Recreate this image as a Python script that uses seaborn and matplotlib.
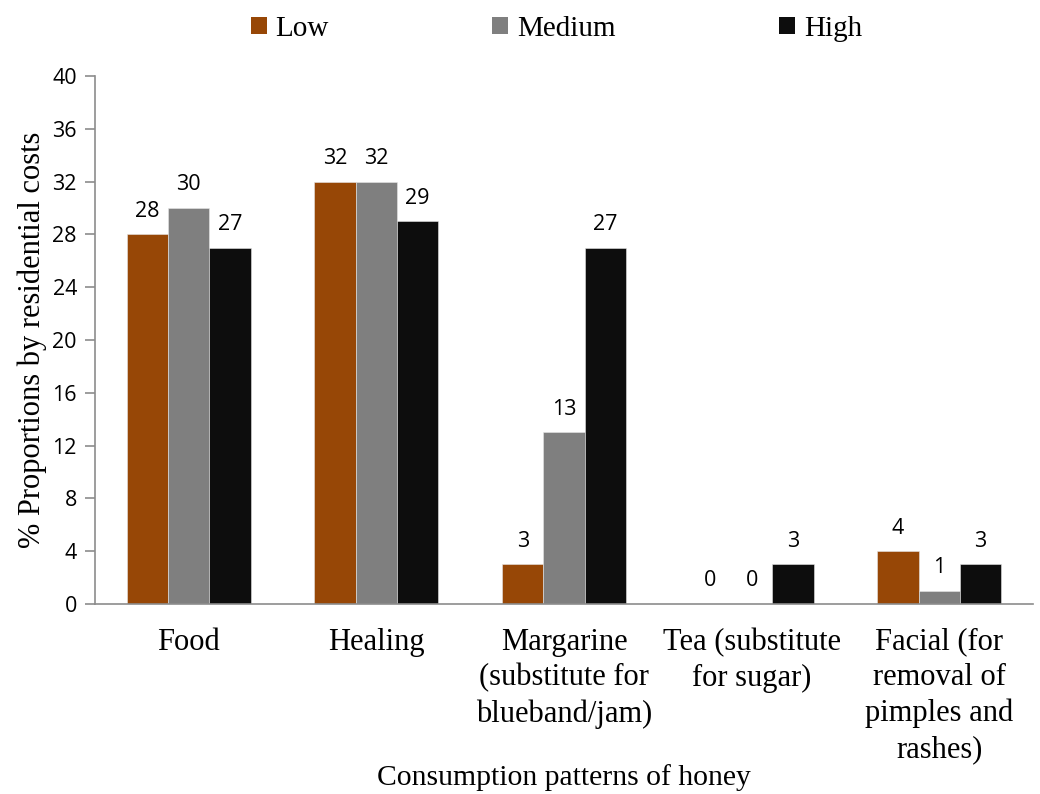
import matplotlib
matplotlib.use("Agg")
import matplotlib.pyplot as plt
import seaborn as sns
import pandas as pd
import numpy as np
from matplotlib.patches import Patch

categories = ["Food", "Healing", "Margarine\n(substitute for\nblueband/jam)",
              "Tea (substitute\nfor sugar)", "Facial (for\nremoval of\npimples and\nrashes)"]
low = [28, 32, 3, 0, 4]
medium = [30, 32, 13, 0, 1]
high = [27, 29, 27, 3, 3]
levels = ["Low", "Medium", "High"]
colors = ["#974706", "#7f7f7f", "#0d0d0d"]
yticks = list(range(0, 41, 4))

df = pd.DataFrame({
    "category": categories * 3,
    "level": [lv for lv in levels for _ in categories],
    "value": low + medium + high,
})

sns.set_theme(style="white")
plt.rcParams["font.family"] = ["Liberation Serif", "DejaVu Serif"]
plt.rcParams["text.color"] = "black"
plt.rcParams["axes.labelcolor"] = "black"
plt.rcParams["xtick.color"] = "black"
plt.rcParams["ytick.color"] = "black"

sans = ["Open Sans", "DejaVu Sans"]

fig = plt.figure(figsize=(10.4, 7.94), dpi=100)
ax = fig.add_axes([0.0913, 0.2393, 0.902, 0.665])

sns.barplot(data=df, x="category", y="value", hue="level", order=categories,
            hue_order=levels, palette=colors, width=0.66, saturation=1,
            edgecolor="#e6e6e6", linewidth=0.4, legend=False, ax=ax)

for cont in ax.containers:
    ax.bar_label(cont, labels=[f"{int(v)}" for v in cont.datavalues], padding=9,
                 fontsize=15.5, family=sans, color="black")

ax.set_ylim(0, 40)
ax.set_xlim(-0.5, 4.5)
ax.set_yticks(yticks)
ax.set_yticklabels([str(t) for t in yticks], fontsize=15.5, family=sans)
ax.set_xticks(range(len(categories)))
ax.set_xticklabels(categories, fontsize=22, linespacing=1.3)
ax.set_xticks(np.arange(-0.5, 5.0, 1.0), minor=True)
ax.tick_params(axis="x", which="major", length=0, pad=17, labelcolor="black")
ax.tick_params(axis="x", which="minor", length=9, width=1.2, color="#8c8c8c", direction="out")
ax.tick_params(axis="y", which="major", length=7, width=1.2, color="#8c8c8c", direction="out",
               left=True, pad=6, labelcolor="black")

for side in ["top", "right"]:
    ax.spines[side].set_visible(False)
for side in ["left", "bottom"]:
    ax.spines[side].set_color("#8c8c8c")
    ax.spines[side].set_linewidth(1.2)

ax.set_xlabel("Consumption patterns of honey", fontsize=21.3, labelpad=0)
ax.set_ylabel("% Proportions by residential costs", fontsize=22, labelpad=4)

handles = [Patch(facecolor=c, edgecolor="none", label=l) for c, l in zip(colors, levels)]
fig.legend(handles=handles, loc="upper center", bbox_to_anchor=(0.535, 1.013), ncol=3,
           frameon=False, fontsize=21, handlelength=0.55, handleheight=0.55,
           handletextpad=0.3, columnspacing=5.6)

fig.savefig("out.png", dpi=100)
